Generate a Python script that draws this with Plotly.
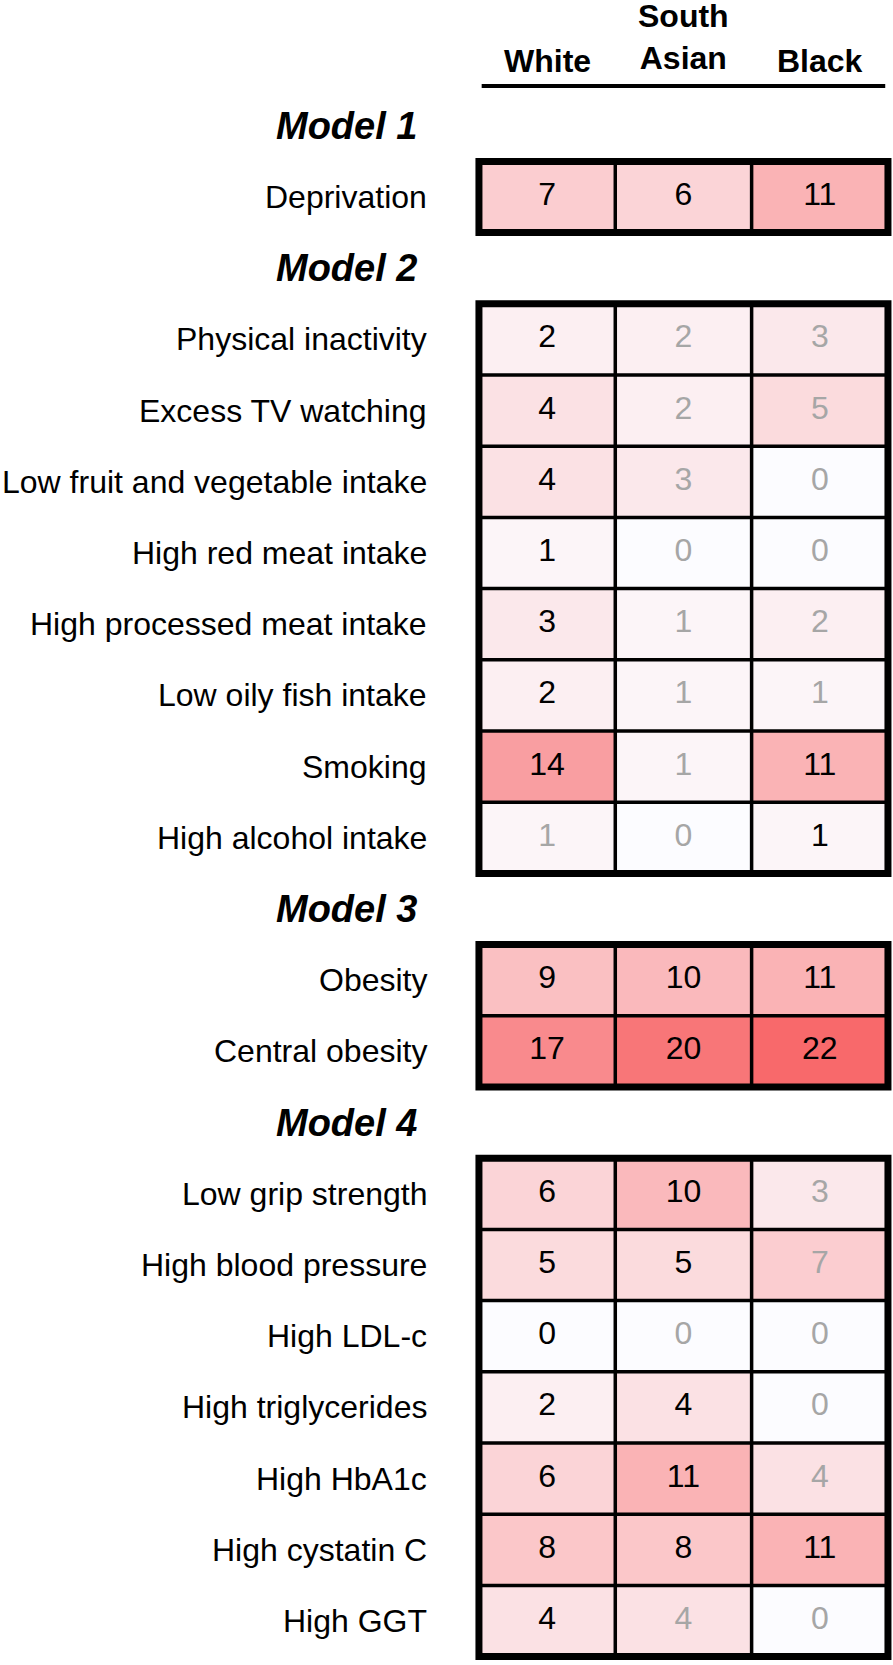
import plotly.graph_objects as go

# ---------------- data ----------------
groups = ["Model 1", "Model 2", "Model 3", "Model 4"]
columns = ["White", "South<br>Asian", "Black"]

factors = [
    "Deprivation",
    "Physical inactivity", "Excess TV watching", "Low fruit and vegetable intake",
    "High red meat intake", "High processed meat intake", "Low oily fish intake",
    "Smoking", "High alcohol intake",
    "Obesity", "Central obesity",
    "Low grip strength", "High blood pressure", "High LDL-c", "High triglycerides",
    "High HbA1c", "High cystatin C", "High GGT",
]
factor_group = [1, 2, 2, 2, 2, 2, 2, 2, 2, 3, 3, 4, 4, 4, 4, 4, 4, 4]

white = [7, 2, 4, 4, 1, 3, 2, 14, 1, 9, 17, 6, 5, 0, 2, 6, 8, 4]
south_asian = [6, 2, 2, 3, 0, 1, 1, 1, 0, 10, 20, 10, 5, 0, 4, 11, 8, 4]
black = [11, 3, 5, 0, 0, 2, 1, 11, 1, 11, 22, 3, 7, 0, 0, 4, 11, 0]

# 1 = significant (black text), 0 = not significant (grey text)
white_sig = [1, 1, 1, 1, 1, 1, 1, 1, 0, 1, 1, 1, 1, 1, 1, 1, 1, 1]
south_asian_sig = [1, 0, 0, 0, 0, 0, 0, 0, 0, 1, 1, 1, 1, 0, 1, 1, 1, 0]
black_sig = [1, 0, 0, 0, 0, 0, 0, 1, 1, 1, 1, 0, 0, 0, 0, 0, 1, 0]

# ---------------- layout of rows (slots) ----------------
FONT = "Liberation Sans, Arial, sans-serif"
BLACK_TXT = "#000000"
GREY_TXT = "#A6A6A6"

slots = []
factor_slot = []
group_slot = []
group_ranges = []
for g in range(len(groups)):
    group_slot.append(len(slots))
    slots.append(("head", g))
    first = len(slots)
    for i, fg in enumerate(factor_group):
        if fg == g + 1:
            factor_slot.append(len(slots))
            slots.append(("factor", i))
    group_ranges.append((first, len(slots) - 1))

n_slots = len(slots)
series = [white, south_asian, black]
sigs = [white_sig, south_asian_sig, black_sig]

z = []
for kind, idx in slots:
    if kind == "head":
        z.append([None, None, None])
    else:
        z.append([s[idx] for s in series])

fig = go.Figure()
fig.add_trace(go.Heatmap(
    z=z, x=[0, 1, 2], y=list(range(n_slots)),
    colorscale=[[0, "#FCFCFF"], [1, "#F8696B"]],
    zmin=0, zmax=22, showscale=False, hoverinfo="skip",
))

tx, ty, tt, tc = [], [], [], []
for c in range(3):
    for i in range(len(factors)):
        tx.append(c)
        ty.append(factor_slot[i])
        tt.append(str(series[c][i]))
        tc.append(BLACK_TXT if sigs[c][i] else GREY_TXT)
fig.add_trace(go.Scatter(
    x=tx, y=ty, text=tt, mode="text", textposition="middle center",
    textfont=dict(family=FONT, size=32, color=tc), hoverinfo="skip",
    showlegend=False,
))

shapes = []
for (s0, s1) in group_ranges:
    for s in range(s0, s1):
        shapes.append(dict(type="line", xref="x", yref="y", x0=-0.5, x1=2.5,
                           y0=s + 0.5, y1=s + 0.5, line=dict(color="black", width=3.5)))
    for xv in (0.5, 1.5):
        shapes.append(dict(type="line", xref="x", yref="y", x0=xv, x1=xv,
                           y0=s0 - 0.5, y1=s1 + 0.5, line=dict(color="black", width=3.5)))
    shapes.append(dict(type="rect", xref="x", yref="y", x0=-0.5, x1=2.5,
                       y0=s0 - 0.5, y1=s1 + 0.5, line=dict(color="black", width=7)))
shapes.append(dict(type="line", xref="x", yref="y", x0=-0.48, x1=2.48,
                   y0=-0.56, y1=-0.56, line=dict(color="black", width=4)))

ann = []
for i, f in enumerate(factors):
    ann.append(dict(x=-0.87, y=factor_slot[i], xref="x", yref="y", text=f,
                    xanchor="right", yanchor="middle", showarrow=False,
                    font=dict(family=FONT, size=32, color="black")))
for g, name in enumerate(groups):
    ann.append(dict(x=-0.94, y=group_slot[g], xref="x", yref="y",
                    text="<b><i>" + name + "</i></b>",
                    xanchor="right", yanchor="middle", showarrow=False,
                    font=dict(family=FONT, size=38, color="black")))
col_y = [-0.91, -1.25, -0.91]
for c, name in enumerate(columns):
    ann.append(dict(x=c, y=col_y[c], xref="x", yref="y", text="<b>" + name + "</b>",
                    xanchor="center", yanchor="middle", showarrow=False,
                    font=dict(family=FONT, size=32, color="black")))

fig.update_layout(
    width=893, height=1665,
    margin=dict(l=0, r=0, t=0, b=0),
    paper_bgcolor="white", plot_bgcolor="white",
    xaxis=dict(range=[-4.013, 2.537], visible=False, fixedrange=True),
    yaxis=dict(range=[21.618, -1.767], visible=False, fixedrange=True),
    shapes=shapes, annotations=ann, showlegend=False,
)

fig.write_html(
    "out.html",
    config={"displayModeBar": False, "staticPlot": True},
    post_script="document.body.style.margin='0';document.body.style.overflow='hidden';",
)
